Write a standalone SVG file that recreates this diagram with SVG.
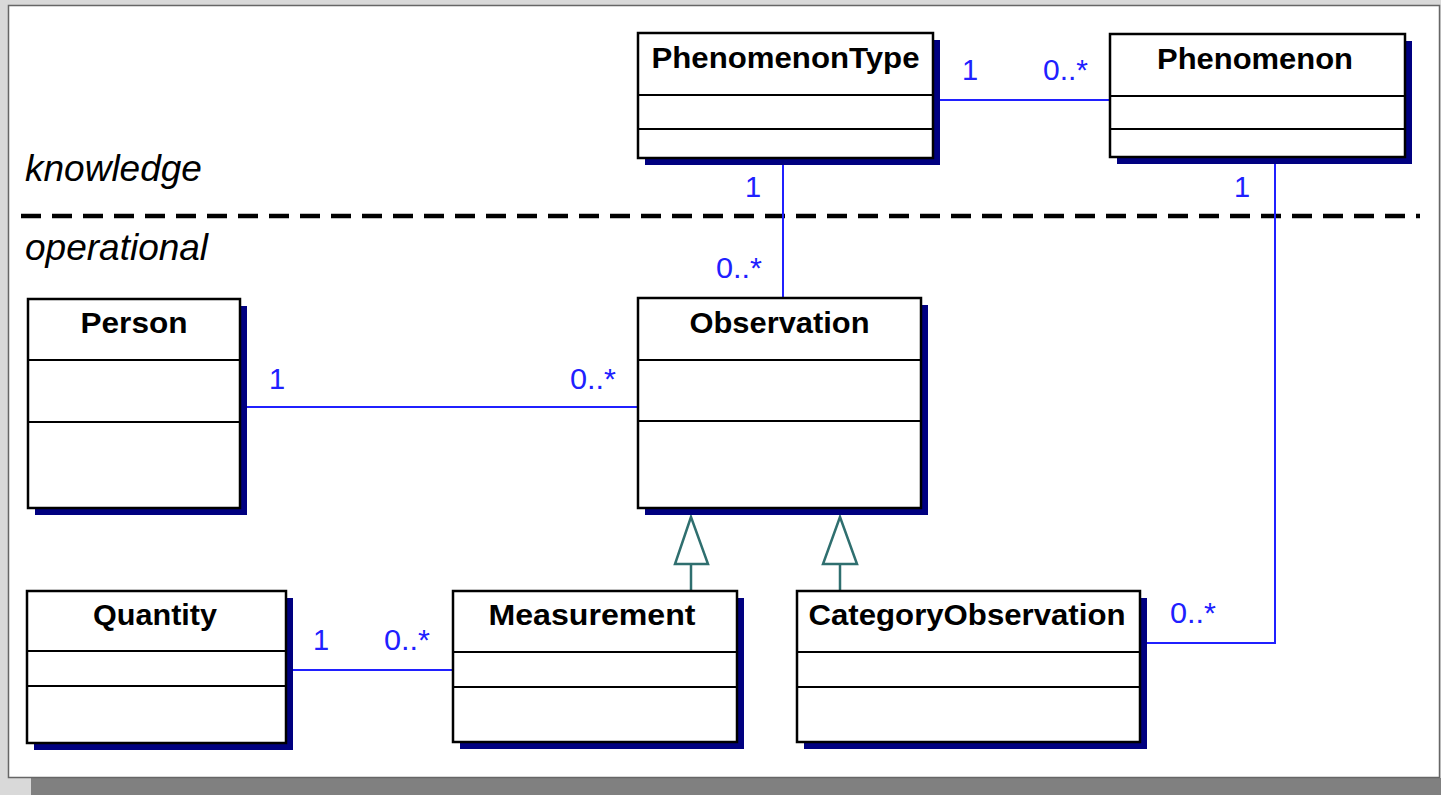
<svg xmlns="http://www.w3.org/2000/svg" width="1441" height="795" viewBox="0 0 1441 795">
<style>
.box{fill:#ffffff;stroke:#000000;stroke-width:2.5}
.shadow{fill:#000080}
.div{stroke:#000000;stroke-width:2}
.title{font-family:"Liberation Sans",Arial,sans-serif;font-weight:bold;font-size:29px;fill:#000000;text-anchor:middle}
.assoc{stroke:#2020ff;stroke-width:2;fill:none}
.gen{stroke:#2f6f6f;stroke-width:2.5;fill:none}
.mult{font-family:"Liberation Sans",Arial,sans-serif;font-size:29px;fill:#2020ff}
.layer{font-family:"Liberation Sans",Arial,sans-serif;font-style:italic;font-size:37px;fill:#000000}
</style>
<rect x="0" y="0" width="1441" height="795" fill="#d9d9d9"/>
<rect x="31" y="778" width="1410" height="17" fill="#808080"/>
<rect x="8.5" y="5.5" width="1431" height="772" fill="#ffffff" stroke="#666666" stroke-width="1.5"/>

<g id="layers">
<text class="layer" x="25" y="181">knowledge</text>
<text class="layer" x="25" y="260">operational</text>
<line x1="21" y1="216" x2="1420" y2="216" stroke="#000000" stroke-width="4.5" stroke-dasharray="20,11"/>
</g>

<g id="connectors">
<line class="assoc" x1="933" y1="100" x2="1110" y2="100"/>
<line class="assoc" x1="783" y1="159" x2="783" y2="298"/>
<polyline class="assoc" points="1275,158 1275,643 1140,643"/>
<line class="assoc" x1="240" y1="407" x2="638" y2="407"/>
<line class="assoc" x1="286" y1="670" x2="453" y2="670"/>
<polygon class="gen" fill="#ffffff" points="691,517 675,564 708,564"/>
<line class="gen" x1="691" y1="564" x2="691" y2="591"/>
<polygon class="gen" fill="#ffffff" points="840,517 823,564 857,564"/>
<line class="gen" x1="840" y1="564" x2="840" y2="591"/>
<text class="mult" x="962" y="80">1</text>
<text class="mult" x="1043" y="80" textLength="45" lengthAdjust="spacingAndGlyphs">0..*</text>
<text class="mult" x="745" y="197">1</text>
<text class="mult" x="716" y="278" textLength="46" lengthAdjust="spacingAndGlyphs">0..*</text>
<text class="mult" x="1234" y="197">1</text>
<text class="mult" x="269" y="389">1</text>
<text class="mult" x="570" y="389" textLength="46" lengthAdjust="spacingAndGlyphs">0..*</text>
<text class="mult" x="313" y="650">1</text>
<text class="mult" x="384" y="650" textLength="46" lengthAdjust="spacingAndGlyphs">0..*</text>
<text class="mult" x="1170" y="623" textLength="46" lengthAdjust="spacingAndGlyphs">0..*</text>
</g>

<g id="PhenomenonType">
<rect class="shadow" x="645" y="40" width="295" height="125"/>
<rect class="box" x="638" y="33" width="295" height="125"/>
<line class="div" x1="638" y1="95" x2="933" y2="95"/>
<line class="div" x1="638" y1="129" x2="933" y2="129"/>
<text class="title" x="785.5" y="68" textLength="268" lengthAdjust="spacingAndGlyphs">PhenomenonType</text>
</g>

<g id="Phenomenon">
<rect class="shadow" x="1117" y="41" width="295" height="123"/>
<rect class="box" x="1110" y="34" width="295" height="123"/>
<line class="div" x1="1110" y1="96" x2="1405" y2="96"/>
<line class="div" x1="1110" y1="129" x2="1405" y2="129"/>
<text class="title" x="1255" y="69" textLength="196" lengthAdjust="spacingAndGlyphs">Phenomenon</text>
</g>

<g id="Person">
<rect class="shadow" x="35" y="306" width="212" height="209"/>
<rect class="box" x="28" y="299" width="212" height="209"/>
<line class="div" x1="28" y1="360" x2="240" y2="360"/>
<line class="div" x1="28" y1="422" x2="240" y2="422"/>
<text class="title" x="134" y="333" textLength="107" lengthAdjust="spacingAndGlyphs">Person</text>
</g>

<g id="Observation">
<rect class="shadow" x="645" y="305" width="283" height="210"/>
<rect class="box" x="638" y="298" width="283" height="210"/>
<line class="div" x1="638" y1="360" x2="921" y2="360"/>
<line class="div" x1="638" y1="421" x2="921" y2="421"/>
<text class="title" x="779.5" y="333" textLength="180" lengthAdjust="spacingAndGlyphs">Observation</text>
</g>

<g id="Quantity">
<rect class="shadow" x="34" y="598" width="259" height="152"/>
<rect class="box" x="27" y="591" width="259" height="152"/>
<line class="div" x1="27" y1="651" x2="286" y2="651"/>
<line class="div" x1="27" y1="686" x2="286" y2="686"/>
<text class="title" x="155" y="625" textLength="124" lengthAdjust="spacingAndGlyphs">Quantity</text>
</g>

<g id="Measurement">
<rect class="shadow" x="460" y="598" width="284" height="151"/>
<rect class="box" x="453" y="591" width="284" height="151"/>
<line class="div" x1="453" y1="652" x2="737" y2="652"/>
<line class="div" x1="453" y1="687" x2="737" y2="687"/>
<text class="title" x="592" y="625" textLength="207" lengthAdjust="spacingAndGlyphs">Measurement</text>
</g>

<g id="CategoryObservation">
<rect class="shadow" x="804" y="598" width="343" height="151"/>
<rect class="box" x="797" y="591" width="343" height="151"/>
<line class="div" x1="797" y1="652" x2="1140" y2="652"/>
<line class="div" x1="797" y1="687" x2="1140" y2="687"/>
<text class="title" x="967" y="625" textLength="317" lengthAdjust="spacingAndGlyphs">CategoryObservation</text>
</g>
</svg>
